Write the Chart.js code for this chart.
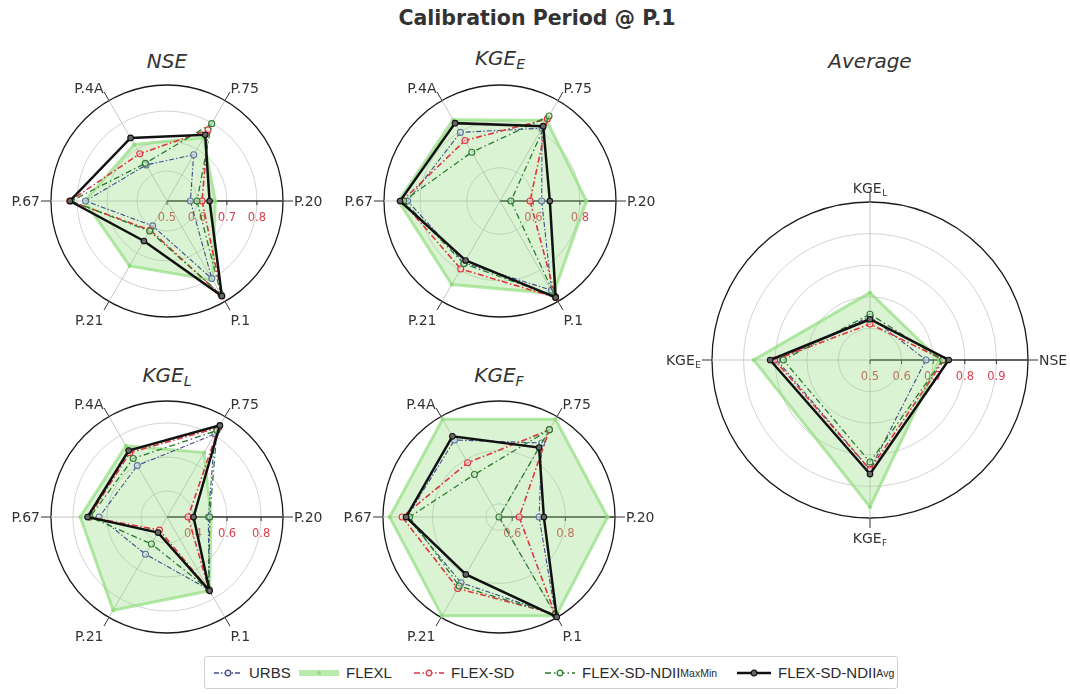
<!DOCTYPE html>
<html><head><meta charset="utf-8">
<script src="https://cdn.jsdelivr.net/npm/chart.js@4.4.0/dist/chart.umd.min.js"></script>
<style>
html,body{margin:0;padding:0;background:#fff;overflow:hidden;}
#wrap{position:relative;width:1070px;height:694px;}
canvas{position:absolute;}
.t{position:absolute;font-family:"DejaVu Sans";color:#333;white-space:nowrap;text-align:center;}
.st{font-style:italic;font-size:20px;width:200px;line-height:24px;}
.st sub{font-size:14px;vertical-align:-4px;line-height:0;}
#main{left:0;width:1074px;top:6px;font-weight:bold;font-size:20.5px;line-height:24px;}
#legend{position:absolute;left:204px;top:656px;width:694px;height:33px;border:1px solid #d0d0d0;border-radius:3px;box-sizing:border-box;}
.li{position:absolute;top:0;height:31px;display:flex;align-items:center;font-family:"Liberation Sans";font-size:15px;color:#2a2a2a;white-space:nowrap;}
.li svg{margin-right:7px;}
.li sub{font-size:10.5px;vertical-align:-3px;line-height:0;}
</style></head>
<body><div id="wrap">
<div id="main" class="t">Calibration Period @ P.1</div>
<div class="t st" style="left:67px;top:49px;">NSE</div>
<div class="t st" style="left:400px;top:46px;">KGE<sub>E</sub></div>
<div class="t st" style="left:770px;top:49px;">Average</div>
<div class="t st" style="left:67px;top:363px;">KGE<sub>L</sub></div>
<div class="t st" style="left:399px;top:363px;">KGE<sub>F</sub></div>
<div id="legend">
 <div class="li" style="left:9px;"><svg width="28" height="12"><line x1="0" y1="6" x2="28" y2="6" stroke="#404a8c" stroke-width="1.3" stroke-dasharray="5,2,1.5,2"/><circle cx="14" cy="6" r="2.8" fill="#dfe6ee" stroke="#404a8c" stroke-width="1.2"/></svg>URBS</div>
 <div class="li" style="left:94px;"><svg width="40" height="12"><line x1="0" y1="6" x2="40" y2="6" stroke="rgba(140,220,120,0.6)" stroke-width="6"/><circle cx="20" cy="6" r="2" fill="rgba(140,220,120,0.9)"/></svg>FLEXL</div>
 <div class="li" style="left:209px;"><svg width="30" height="12"><line x1="0" y1="6" x2="30" y2="6" stroke="#e0343c" stroke-width="1.4" stroke-dasharray="6,2.5,1.5,2.5"/><circle cx="15" cy="6" r="2.8" fill="#fde4e4" stroke="#e0343c" stroke-width="1.2"/></svg>FLEX-SD</div>
 <div class="li" style="left:340px;"><svg width="30" height="12"><line x1="0" y1="6" x2="30" y2="6" stroke="#2c7a2c" stroke-width="1.3" stroke-dasharray="6,3,1.5,3"/><circle cx="15" cy="6" r="2.8" fill="#e0f2e0" stroke="#2c7a2c" stroke-width="1.2"/></svg>FLEX-SD-NDII<sub>MaxMin</sub></div>
 <div class="li" style="left:532px;"><svg width="34" height="12"><line x1="0" y1="6" x2="34" y2="6" stroke="#111" stroke-width="2.6"/><circle cx="17" cy="6" r="2.8" fill="#666" stroke="#111" stroke-width="1.2"/></svg>FLEX-SD-NDII<sub>Avg</sub></div>
</div>
</div>
<script>
// ---------- DATA ----------
const stations = ['P.20','P.1','P.21','P.67','P.4A','P.75'];   // clockwise from east
const avgMetrics = ['NSE','KGE_F','KGE_E','KGE_L'];            // clockwise from east
const seriesNames = ['URBS','FLEXL','FLEX-SD','FLEX-SD-NDII_MaxMin','FLEX-SD-NDII_Avg'];

// NSE
const nseURBS   = [0.578, 0.799, 0.596, 0.772, 0.639, 0.678];
const nseFLEXL  = [0.661, 0.805, 0.750, 0.775, 0.718, 0.744];
const nseSD     = [0.617, 0.866, 0.612, 0.824, 0.682, 0.774];
const nseMaxMin = [0.600, 0.860, 0.616, 0.820, 0.645, 0.798];
const nseAvg    = [0.642, 0.866, 0.654, 0.824, 0.743, 0.755];
const nseRange  = [0.5, 0.887];
const nseTicks  = [0.5, 0.6, 0.7, 0.8];

// KGE_E
const kgeEURBS   = [0.636, 0.899, 0.764, 0.854, 0.797, 0.818];
const kgeEFLEXL  = [0.828, 0.916, 0.871, 0.893, 0.860, 0.857];
const kgeESD     = [0.586, 0.935, 0.794, 0.878, 0.757, 0.864];
const kgeEMaxMin = [0.504, 0.930, 0.768, 0.871, 0.699, 0.878];
const kgeEAvg    = [0.671, 0.935, 0.752, 0.886, 0.843, 0.828];
const kgeERange  = [0.457, 0.955];
const kgeETicks  = [0.6, 0.8];

// KGE_L
const kgeLURBS   = [0.490, 0.740, 0.500, 0.646, 0.596, 0.810];
const kgeLFLEXL  = [0.506, 0.748, 0.880, 0.757, 0.730, 0.684];
const kgeLSD     = [0.371, 0.740, 0.336, 0.706, 0.684, 0.855];
const kgeLMaxMin = [0.498, 0.740, 0.430, 0.700, 0.644, 0.834];
const kgeLAvg    = [0.403, 0.748, 0.353, 0.714, 0.698, 0.869];
const kgeLRange  = [0.247, 0.929];
const kgeLTicks  = [0.4, 0.6, 0.8];

// KGE_F
const kgeFURBS   = [0.701, 0.975, 0.836, 0.897, 0.885, 0.872];
const kgeFFLEXL  = [0.959, 0.980, 0.980, 0.962, 0.975, 0.975];
const kgeFSD     = [0.626, 0.972, 0.861, 0.915, 0.786, 0.929];
const kgeFMaxMin = [0.550, 0.975, 0.850, 0.887, 0.735, 0.930];
const kgeFAvg    = [0.719, 0.985, 0.800, 0.900, 0.901, 0.852];
const kgeFRange  = [0.55, 0.987];
const kgeFTicks  = [0.6, 0.8];

// Average (NSE, KGE_F, KGE_E, KGE_L)
const avgURBS   = [0.677, 0.847, 0.795, 0.637];
const avgFLEXL  = [0.720, 0.965, 0.868, 0.713];
const avgSD     = [0.734, 0.847, 0.802, 0.614];
const avgMaxMin = [0.730, 0.823, 0.774, 0.645];
const avgAvg    = [0.749, 0.861, 0.816, 0.629];
const avgRange  = [0.5, 1.0];
const avgTicks  = [0.5, 0.6, 0.7, 0.8, 0.9];

// ---------- STYLES ----------
const STY = [
  {borderColor:'#404a8c', borderWidth:1.1, borderDash:[5,2,1.5,2], pointBorderColor:'#5d7899', pointBackgroundColor:'rgba(220,230,240,0.6)', pointRadius:3, fill:false, order:3},
  {borderColor:'rgba(140,220,120,0.65)', borderWidth:3, borderDash:[], backgroundColor:'rgba(140,220,120,0.33)', pointBorderColor:'rgba(140,220,120,0.8)', pointBackgroundColor:'rgba(140,220,120,0.8)', pointRadius:1.5, fill:true, order:4},
  {borderColor:'#e0343c', borderWidth:1.6, borderDash:[6,2.5,1.5,2.5], pointBorderColor:'#e0343c', pointBackgroundColor:'rgba(255,220,220,0.6)', pointRadius:3, fill:false, order:2},
  {borderColor:'#2c7a2c', borderWidth:1.3, borderDash:[6,3,1.5,3], pointBorderColor:'#2c7a2c', pointBackgroundColor:'rgba(210,240,210,0.6)', pointRadius:3, fill:false, order:1},
  {borderColor:'#111111', borderWidth:2.5, borderDash:[], pointBorderColor:'#111111', pointBackgroundColor:'#666666', pointRadius:2.8, fill:false, order:0}
];

function drawRich(ctx, text, x, y, align, vpos, fs) {
  const parts = text.split('_');
  const main = parts[0], sub = parts[1];
  const sfs = Math.round(fs * 0.66);
  ctx.font = fs + 'px "DejaVu Sans"';
  const wm = ctx.measureText(main).width;
  let ws = 0;
  if (sub) { ctx.font = sfs + 'px "DejaVu Sans"'; ws = ctx.measureText(sub).width + 0.5; }
  const w = wm + ws;
  const x0 = align === 'left' ? x : (align === 'right' ? x - w : x - w / 2);
  const base = vpos === 'top' ? y + fs * 1.0 : (vpos === 'bottom' ? y + 2 : y + fs * 0.38);
  ctx.textAlign = 'left'; ctx.textBaseline = 'alphabetic';
  ctx.font = fs + 'px "DejaVu Sans"';
  ctx.fillText(main, x0, base);
  if (sub) { ctx.font = sfs + 'px "DejaVu Sans"'; ctx.fillText(sub, x0 + wm + 0.5, base + fs * 0.2); }
}

const deco = {
  id: 'deco',
  beforeDatasetsDraw(chart, args, opts) {
    const s = chart.scales.r, ctx = chart.ctx, R = s.drawingArea, n = chart.data.labels.length;
    ctx.save();
    ctx.lineWidth = 1; ctx.strokeStyle = '#333';
    for (let i = 0; i < n; i++) {
      const a = s.getPointPosition(i, R), b = s.getPointPosition(i, R + 10);
      ctx.beginPath(); ctx.moveTo(a.x, a.y); ctx.lineTo(b.x, b.y); ctx.stroke();
    }
    const o = s.getPointPosition(0, 0), e = s.getPointPosition(0, R);
    ctx.lineWidth = 1.3; ctx.strokeStyle = '#333';
    ctx.beginPath(); ctx.moveTo(o.x, o.y); ctx.lineTo(e.x, e.y); ctx.stroke();
    ctx.font = '11.5px "DejaVu Sans"'; ctx.fillStyle = '#d9434f';
    ctx.textAlign = 'center'; ctx.textBaseline = 'top';
    opts.ticks.forEach(v => {
      const p = s.getPointPosition(0, s.getDistanceFromCenterForValue(v));
      ctx.lineWidth = 1; ctx.strokeStyle = '#333';
      ctx.beginPath(); ctx.moveTo(p.x, p.y); ctx.lineTo(p.x, p.y + 4); ctx.stroke();
      ctx.fillText(v.toFixed(1), p.x, p.y + 11);
    });
    ctx.restore();
  },
  afterDraw(chart) {
    const s = chart.scales.r, ctx = chart.ctx, R = s.drawingArea;
    ctx.save(); ctx.fillStyle = '#333';
    chart.data.labels.forEach((lab, i) => {
      const p = s.getPointPosition(i, R + 11);
      const c = Math.cos(p.angle), sn = Math.sin(p.angle);
      const align = c > 0.1 ? 'left' : (c < -0.1 ? 'right' : 'center');
      const vpos = sn > 0.1 ? 'top' : (sn < -0.1 ? 'bottom' : 'middle');
      drawRich(ctx, lab, p.x, p.y, align, vpos, 14);
    });
    ctx.restore();
  }
};

function makeChart(left, top, w, h, pad, labels, series, range, ticks) {
  const c = document.createElement('canvas');
  c.width = w; c.height = h; c.style.left = left + 'px'; c.style.top = top + 'px';
  document.getElementById('wrap').appendChild(c);
  new Chart(c, {
    type: 'radar',
    data: {
      labels: labels,
      datasets: series.map((vals, i) => Object.assign({label: seriesNames[i], data: vals, clip: false, pointBorderWidth: 1.1, pointHitRadius: 0, pointHoverRadius: 0}, STY[i]))
    },
    options: {
      responsive: false, animation: false, devicePixelRatio: 1, events: [],
      layout: {padding: pad},
      plugins: {legend: {display: false}, tooltip: {enabled: false}, deco: {ticks: ticks}},
      elements: {line: {tension: 0}},
      scales: {
        r: {
          min: range[0], max: range[1], startAngle: 90,
          ticks: {display: false},
          pointLabels: {display: false},
          afterBuildTicks: (sc) => {
            sc.ticks = [range[0]].concat(ticks.filter(v => v > range[0] + 1e-9), [range[1]]).map(v => ({value: v}));
          },
          grid: {
            circular: true,
            color: (cx) => cx.index === cx.scale.ticks.length - 1 ? '#1a1a1a' : '#d3d3d3',
            lineWidth: (cx) => cx.index === cx.scale.ticks.length - 1 ? 1.3 : 1
          },
          angleLines: {color: '#c6c6c6', lineWidth: 1}
        }
      }
    },
    plugins: [deco]
  });
}

const padS = {left: 44, right: 43, top: 34, bottom: 33};
makeChart(7, 51, 320, 300, padS, stations, [nseURBS, nseFLEXL, nseSD, nseMaxMin, nseAvg], nseRange, nseTicks);
makeChart(340, 51, 320, 300, padS, stations, [kgeEURBS, kgeEFLEXL, kgeESD, kgeEMaxMin, kgeEAvg], kgeERange, kgeETicks);
makeChart(7, 367, 320, 300, padS, stations, [kgeLURBS, kgeLFLEXL, kgeLSD, kgeLMaxMin, kgeLAvg], kgeLRange, kgeLTicks);
makeChart(339, 367, 320, 300, padS, stations, [kgeFURBS, kgeFFLEXL, kgeFSD, kgeFMaxMin, kgeFAvg], kgeFRange, kgeFTicks);
makeChart(650, 160, 420, 400, {left: 62, right: 42, top: 42, bottom: 42}, avgMetrics, [avgURBS, avgFLEXL, avgSD, avgMaxMin, avgAvg], avgRange, avgTicks);
</script>
</body></html>
